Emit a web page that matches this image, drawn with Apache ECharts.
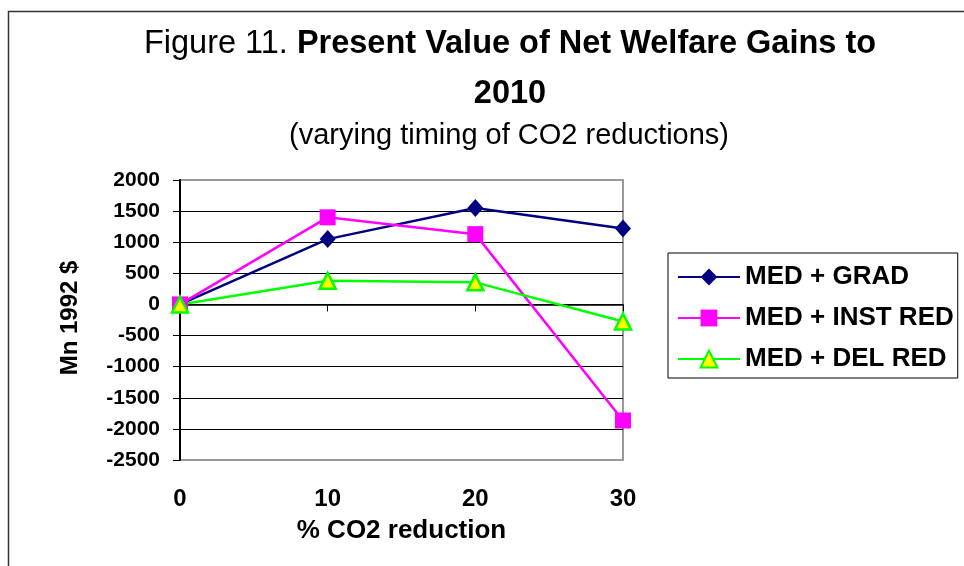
<!DOCTYPE html>
<html>
<head>
<meta charset="utf-8">
<script src="https://cdn.jsdelivr.net/npm/echarts@6/dist/echarts.min.js"></script>
<style>
    html, body { margin: 0; padding: 0; background: #fff; }
    #chart { width: 964px; height: 566px; }
</style>
</head>
<body>
<div id="chart"></div>
<script>
// 数据
const categories = ['0', '10', '20', '30'];
const seriesNames = ['MED + GRAD', 'MED + INST RED', 'MED + DEL RED'];
const medGrad = [0, 1050, 1550, 1220];
const medInstRed = [0, 1400, 1130, -1865];
const medDelRed = [0, 380, 355, -275];
const yTicks = { min: -2500, max: 2000, step: 500 };

const FONT = "'Liberation Sans', Arial, sans-serif";

document.addEventListener('DOMContentLoaded', function() {
    const el = document.getElementById('chart');
    const chart = echarts.init(el);

    const option = {
        animation: false,
        backgroundColor: '#fff',
        graphic: [{
            // 外框
            type: 'rect',
            shape: { x: 8.5, y: 11.5, width: 1000, height: 600 },
            style: { fill: 'none', stroke: '#333', lineWidth: 1.5 },
            silent: true
        }],
        title: [
            {
                text: '{r|Figure 11. }{b|Present Value of Net Welfare Gains to}\n{b|2010}',
                left: 510,
                top: 19,
                textAlign: 'center',
                padding: 0,
                textStyle: {
                    fontFamily: FONT,
                    lineHeight: 50,
                    rich: {
                        r: { fontSize: 32.5, fontWeight: 'normal', color: '#000', fontFamily: FONT, lineHeight: 50 },
                        b: { fontSize: 32.5, fontWeight: 'bold', color: '#000', fontFamily: FONT, lineHeight: 50 }
                    }
                }
            },
            {
                text: '(varying timing of CO2 reductions)',
                left: 509,
                top: 121,
                textAlign: 'center',
                padding: 0,
                textStyle: { fontFamily: FONT, fontSize: 29, fontWeight: 'normal', color: '#000' }
            }
        ],
        legend: {
            data: seriesNames,
            orient: 'vertical',
            left: 668,
            top: 253,
            itemWidth: 62,
            itemHeight: 21,
            itemGap: 15,
            padding: [11, 4, 6, 9],
            borderColor: '#000',
            borderWidth: 1,
            textStyle: { fontFamily: FONT, fontSize: 26, fontWeight: 'bold', color: '#000' }
        },
        grid: {
            left: 180,
            right: 341,
            top: 180,
            bottom: 106,
            show: true,
            borderColor: '#999',
            borderWidth: 2
        },
        xAxis: [
            {
                // 零线上的轴和刻度
                type: 'category',
                data: categories,
                boundaryGap: false,
                axisLine: { onZero: true, lineStyle: { color: '#000', width: 1.5 } },
                axisTick: { show: true, length: 7, lineStyle: { color: '#000' } },
                axisLabel: { show: false },
                splitLine: { show: false }
            },
            {
                // 底部的标签和名称
                type: 'category',
                data: categories,
                boundaryGap: false,
                position: 'bottom',
                axisLine: { show: false, onZero: false },
                axisTick: { show: false },
                axisLabel: { fontFamily: FONT, fontSize: 24, fontWeight: 'bold', color: '#000', margin: 27 },
                name: '% CO2 reduction',
                nameLocation: 'middle',
                nameGap: 58,
                nameTextStyle: { fontFamily: FONT, fontSize: 26, fontWeight: 'bold', color: '#000' }
            }
        ],
        yAxis: {
            type: 'value',
            min: yTicks.min,
            max: yTicks.max,
            interval: yTicks.step,
            name: 'Mn 1992 $',
            nameLocation: 'middle',
            nameGap: 98,
            nameTextStyle: { fontFamily: FONT, fontSize: 24, fontWeight: 'bold', color: '#000', padding: [0, 0, 0, 4] },
            axisLine: { show: true, lineStyle: { color: '#000', width: 2 } },
            axisTick: { show: true, length: 7, lineStyle: { color: '#000' } },
            axisLabel: {
                fontFamily: FONT, fontSize: 21, fontWeight: 'bold', color: '#000', margin: 20,
                formatter: function(v) { return String(v); }
            },
            splitLine: { show: true, showMinLine: false, showMaxLine: false, lineStyle: { color: '#000', width: 1 } }
        },
        series: [
            {
                name: seriesNames[0],
                type: 'line',
                data: medGrad,
                xAxisIndex: 0,
                symbol: 'diamond',
                symbolSize: [16, 18],
                itemStyle: { color: '#000080' },
                lineStyle: { color: '#000080', width: 2.5 }
            },
            {
                name: seriesNames[1],
                type: 'line',
                data: medInstRed,
                xAxisIndex: 0,
                symbol: 'rect',
                symbolSize: 16,
                itemStyle: { color: '#ff00ff' },
                lineStyle: { color: '#ff00ff', width: 2.5 }
            },
            {
                name: seriesNames[2],
                type: 'line',
                data: medDelRed,
                xAxisIndex: 0,
                symbol: 'triangle',
                symbolSize: 16,
                itemStyle: { color: '#ffff00', borderColor: '#00ff00', borderWidth: 2.5 },
                lineStyle: { color: '#00ff00', width: 2.5 }
            }
        ]
    };

    chart.setOption(option);

    window.addEventListener('resize', function() {
        chart.resize();
    });
});
</script>
</body>
</html>
